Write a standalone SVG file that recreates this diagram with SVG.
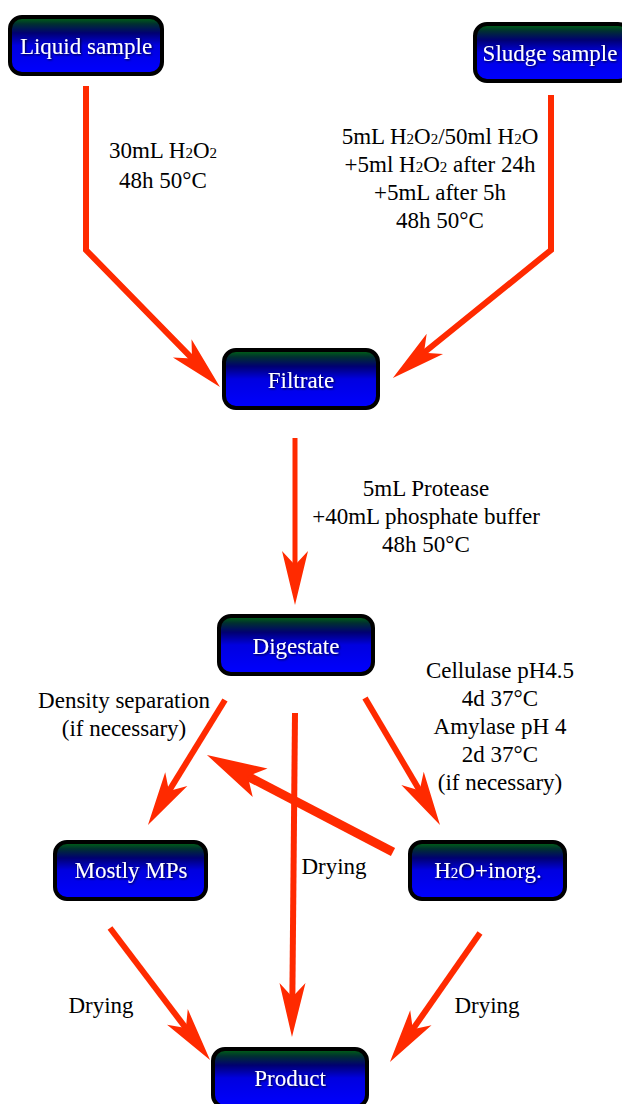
<svg xmlns="http://www.w3.org/2000/svg" width="622" height="1104" viewBox="0 0 622 1104">
<style>
.box{stroke:#000;stroke-width:4;fill:url(#g)}
.nt{font-size:23px;fill:#fff;text-anchor:middle;filter:url(#sh)}
.lb{font-size:23px;fill:#000;text-anchor:middle}
.s{font-size:15px}
.c{fill:none;stroke:#ff2a00;stroke-width:6}
.ah{fill:#ff2a00}
</style>
<defs>
<linearGradient id="g" x1="0" y1="0" x2="0" y2="1">
<stop offset="0" stop-color="#006a10"/>
<stop offset="0.12" stop-color="#003030"/>
<stop offset="0.28" stop-color="#000070"/>
<stop offset="0.5" stop-color="#0000e0"/>
<stop offset="1" stop-color="#0000ff"/>
</linearGradient>
<filter id="sh" x="-10%" y="-30%" width="120%" height="160%">
<feDropShadow dx="1" dy="1" stdDeviation="1" flood-color="#000" flood-opacity="0.8"/>
</filter>
<marker id="a" markerUnits="userSpaceOnUse" orient="auto" overflow="visible" markerWidth="10" markerHeight="10" refX="0" refY="0">
<path class="ah" d="M34,0 L-20,-13 L-6,0 L-20,13 Z"/>
</marker>
<marker id="b" markerUnits="userSpaceOnUse" orient="auto" overflow="visible" markerWidth="10" markerHeight="10" refX="0" refY="0">
<path class="ah" d="M40,0 L-20,-16 L-6,0 L-20,16 Z"/>
</marker>
</defs>

<g id="connectors">
<path class="c" d="M86,86 V250 L196.2,362.7" marker-end="url(#a)"/>
<path class="c" d="M551,95 V250 L419.3,356.5" marker-end="url(#a)"/>
<path class="c" d="M295,438 V571" style="stroke-width:5" marker-end="url(#a)"/>
<path class="c" d="M225,700 L165.8,796.1" marker-end="url(#a)"/>
<path class="c" d="M365,698 L422.7,795.7" marker-end="url(#a)"/>
<path class="c" d="M295,713 L292.3,1003" marker-end="url(#a)"/>
<path class="c" d="M393,852 L242.4,773.5" style="stroke-width:9" marker-end="url(#b)"/>
<path class="c" d="M110,928 L189.5,1032.9" marker-end="url(#a)"/>
<path class="c" d="M480,933 L409.4,1034.1" marker-end="url(#a)"/>
</g>

<g id="labels" font-family="'Liberation Serif', 'Times New Roman', 'DejaVu Serif', serif">
<text class="lb" x="163" y="158">30mL H<tspan class="s">2</tspan>O<tspan class="s">2</tspan></text>
<text class="lb" x="163" y="188">48h 50°C</text>
<text class="lb" x="440" y="144">5mL H<tspan class="s">2</tspan>O<tspan class="s">2</tspan>/50ml H<tspan class="s">2</tspan>O</text>
<text class="lb" x="440" y="172">+5ml H<tspan class="s">2</tspan>O<tspan class="s">2</tspan> after 24h</text>
<text class="lb" x="440" y="200">+5mL after 5h</text>
<text class="lb" x="440" y="228">48h 50°C</text>
<text class="lb" x="426" y="496">5mL Protease</text>
<text class="lb" x="426" y="524">+40mL phosphate buffer</text>
<text class="lb" x="426" y="552">48h 50°C</text>
<text class="lb" x="124" y="708">Density separation</text>
<text class="lb" x="124" y="736">(if necessary)</text>
<text class="lb" x="500" y="678">Cellulase pH4.5</text>
<text class="lb" x="500" y="706">4d 37°C</text>
<text class="lb" x="500" y="734">Amylase pH 4</text>
<text class="lb" x="500" y="762">2d 37°C</text>
<text class="lb" x="500" y="790">(if necessary)</text>
<text class="lb" x="334" y="874">Drying</text>
<text class="lb" x="101" y="1013">Drying</text>
<text class="lb" x="487" y="1013">Drying</text>
</g>

<g id="nodes" font-family="'Liberation Serif', 'Times New Roman', 'DejaVu Serif', serif">
<g id="liquid">
<rect class="box" x="10" y="17" width="152" height="57" rx="12"/>
<text class="nt" x="86" y="54">Liquid sample</text>
</g>
<g id="sludge">
<rect class="box" x="475" y="24" width="155" height="57" rx="12"/>
<text class="nt" x="550" y="61">Sludge sample</text>
</g>
<g id="filtrate">
<rect class="box" x="224" y="350" width="154" height="58" rx="12"/>
<text class="nt" x="301" y="388">Filtrate</text>
</g>
<g id="digestate">
<rect class="box" x="219" y="616" width="154" height="58" rx="12"/>
<text class="nt" x="296" y="654">Digestate</text>
</g>
<g id="mps">
<rect class="box" x="55" y="842" width="151" height="57" rx="12"/>
<text class="nt" x="131" y="878">Mostly MPs</text>
</g>
<g id="h2o">
<rect class="box" x="410" y="842" width="155" height="57" rx="12"/>
<text class="nt" x="488" y="878">H<tspan class="s">2</tspan>O+inorg.</text>
</g>
<g id="product">
<rect class="box" x="213" y="1049" width="154" height="58" rx="12"/>
<text class="nt" x="290" y="1086">Product</text>
</g>
</g>
</svg>
